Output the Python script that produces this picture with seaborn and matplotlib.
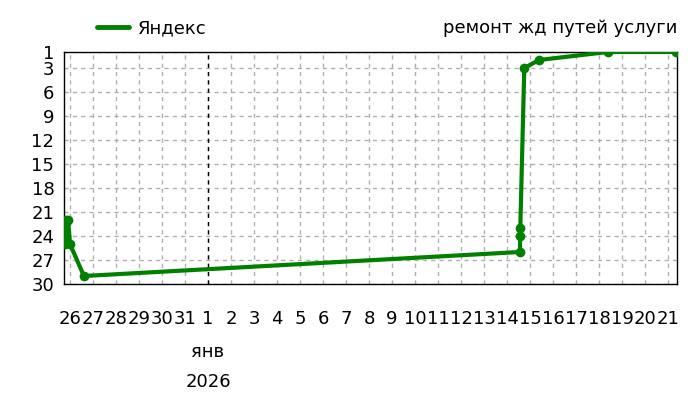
import matplotlib
matplotlib.use("Agg")
import matplotlib.pyplot as plt
import matplotlib.dates as mdates
from matplotlib.lines import Line2D
from matplotlib.ticker import FuncFormatter
import seaborn as sns
import pandas as pd

# ---- data ----
times = [
    "2025-12-25 19:00", "2025-12-25 19:20", "2025-12-25 19:40",
    "2025-12-25 22:00", "2025-12-26 00:00", "2025-12-26 14:30",
    "2026-01-14 13:30", "2026-01-14 13:40", "2026-01-14 13:50",
    "2026-01-14 18:00", "2026-01-15 09:20", "2026-01-18 09:00",
    "2026-01-21 08:40",
]
ranks = [25, 24, 22, 22, 25, 29, 26, 24, 23, 3, 2, 1, 1]
series_name = "Яндекс"
title = "ремонт жд путей услуги"
month_label = "янв"
year_label = "2026"
y_ticks = [1, 3, 6, 9, 12, 15, 18, 21, 24, 27, 30]
x_start = "2025-12-25 17:45"
x_end = "2026-01-21 09:20"
year_start = "2026-01-01"

df = pd.DataFrame({"time": pd.to_datetime(times), "rank": ranks})

sns.set_style("white")
plt.rcParams["font.family"] = ["DejaVu Sans"]
plt.rcParams["text.color"] = "black"

FS = 13
fig = plt.figure(figsize=(7, 4), dpi=100)
ax = fig.add_axes([64 / 700, 1 - 284 / 400, (677 - 64) / 700, (284 - 52) / 400])

GREEN = "#008000"
sns.lineplot(data=df, x="time", y="rank", sort=False, ax=ax, color=GREEN,
             linewidth=3, marker="o", markersize=7, markeredgewidth=0,
             legend=False, zorder=5)

ax.set_xlim(pd.Timestamp(x_start), pd.Timestamp(x_end))
ax.set_ylim(30, 1)
ax.set_yticks(y_ticks)
ax.xaxis.set_major_locator(mdates.DayLocator())
ax.xaxis.set_major_formatter(FuncFormatter(lambda v, p: str(mdates.num2date(v).day)))

ax.grid(True, color="#b0b0b0", linestyle=(0, (3, 3)), linewidth=1)
ax.axvline(pd.Timestamp(year_start), color="black", linestyle=(0, (3, 3)), linewidth=1, zorder=3)

for s in ax.spines.values():
    s.set_visible(True)
    s.set_color("black")
    s.set_linewidth(1)

ax.tick_params(axis="x", length=0, pad=19, labelsize=FS, colors="black")
ax.tick_params(axis="y", length=0, pad=7, labelsize=FS, colors="black")
ax.set_xlabel("")
ax.set_ylabel("")

ax.annotate(month_label, xy=(pd.Timestamp(year_start), 0), xycoords=("data", "axes fraction"),
            xytext=(0, -68 * 0.72), textcoords="offset points", ha="center", va="center",
            fontsize=FS, color="black")
ax.annotate(year_label, xy=(pd.Timestamp(year_start), 0), xycoords=("data", "axes fraction"),
            xytext=(0, -98 * 0.72), textcoords="offset points", ha="center", va="center",
            fontsize=FS, color="black")

handle = Line2D([], [], color=GREEN, linewidth=3.5)
fig.legend([handle], [series_name], loc="center left",
           bbox_to_anchor=(97 / 700, 1 - 28 / 400), bbox_transform=fig.transFigure,
           frameon=False, borderpad=0, borderaxespad=0, handlelength=1.75,
           handletextpad=0.5, fontsize=FS, labelcolor="black")
fig.text(677 / 700, 1 - 28 / 400, title, ha="right", va="center", fontsize=FS, color="black")

fig.savefig("out.png", dpi=100)
